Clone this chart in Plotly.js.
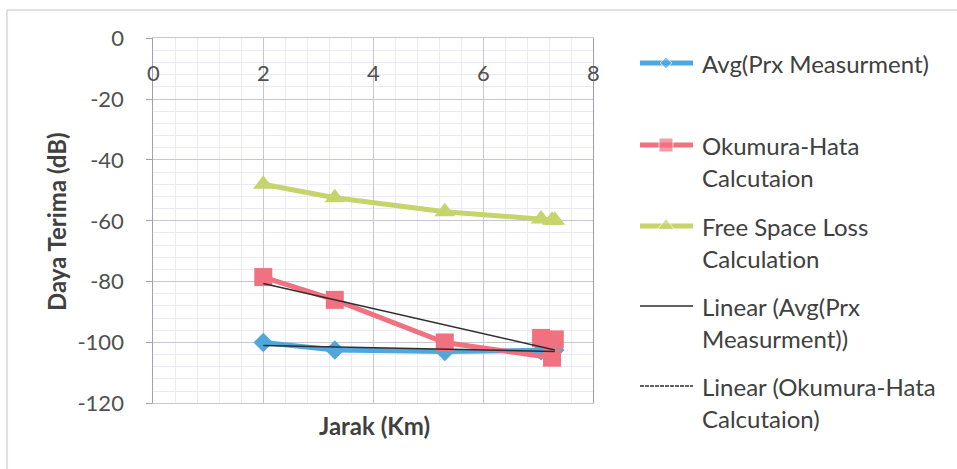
<!DOCTYPE html>
<html>
<head>
<meta charset="utf-8">
<script src="https://cdn.plot.ly/plotly-3.0.1.min.js"></script>
<style>
  html, body { margin: 0; padding: 0; background: #ffffff; }
  #chart { width: 957px; height: 469px; }
  #chart text { font-variant-ligatures: none; font-feature-settings: "liga" 0, "clig" 0; }
</style>
</head>
<body>
<div id="chart"></div>
<script>
// Distance from the transmitter (km) for each measurement row
const distanceKm = [2.0, 3.3, 5.3, 7.25, 7.05, 7.3];

// Received power (dB) per row
const avgPrxMeasurement = [-100, -102.5, -103, -102.8, -102.7, -102.5];
const okumuraHata       = [-78.5, -86, -100, -105, -98.5, -99];
const freeSpaceLoss     = [-48, -52.4, -57, -59.8, -59.4, -59.8];

// Tick positions and their labels (plain hyphen minus)
const xTickVals = [0, 2, 4, 6, 8];
const xTickText = ['0', '2', '4', '6', '8'];
const yTickVals = [0, -20, -40, -60, -80, -100, -120];
const yTickText = ['0', '-20', '-40', '-60', '-80', '-100', '-120'];

// Series and axis labels
const seriesNames = [
  'Avg(Prx Measurment)',
  'Okumura-Hata Calcutaion',
  'Free Space Loss Calculation',
  'Linear (Avg(Prx Measurment))',
  'Linear (Okumura-Hata Calcutaion)'
];
const legendLines = [
  ['Avg(Prx Measurment)'],
  ['Okumura-Hata', 'Calcutaion'],
  ['Free Space Loss', 'Calculation'],
  ['Linear (Avg(Prx', 'Measurment))'],
  ['Linear (Okumura-Hata', 'Calcutaion)']
];
const xTitle = 'Jarak (Km)';
const yTitle = 'Daya Terima (dB)';

// ---- styling ----
const W = 957, H = 469;
const FONT = 'Lato, "Open Sans", sans-serif';
const BLUE = '#4fa7dd', RED = '#f07180', GREEN = '#c5d56b', TREND = '#2e2e2e';
const GRID = '#c6c6d6', MINOR = '#ebebf3', TEXT = '#404040', TICK = '#505050';

// plot area in pixels
const PL = 153.3, PR = 593.3, PT = 38.3, PB = 403.3;

// least-squares linear fit over the data rows
function linearFit(xs, ys) {
  const n = xs.length;
  const mx = xs.reduce((a, b) => a + b, 0) / n;
  const my = ys.reduce((a, b) => a + b, 0) / n;
  let sxy = 0, sxx = 0;
  for (let i = 0; i < n; i++) {
    sxy += (xs[i] - mx) * (ys[i] - my);
    sxx += (xs[i] - mx) * (xs[i] - mx);
  }
  const slope = sxy / sxx;
  const x0 = Math.min(...xs), x1 = Math.max(...xs);
  return { x: [x0, x1], y: [my + slope * (x0 - mx), my + slope * (x1 - mx)] };
}
const fitAvg = linearFit(distanceKm, avgPrxMeasurement);
const fitOH = linearFit(distanceKm, okumuraHata);

const seriesStyle = [
  { color: BLUE,  width: 5, symbol: 'diamond',     size: 15, legSize: 9 },
  { color: RED,   width: 5, symbol: 'square',      size: 18, legSize: 14 },
  { color: GREEN, width: 5, symbol: 'triangle-up', size: 18, legSize: 15 },
  { color: TREND, width: 1.5, dash: 'solid', legDash: 'solid' },
  { color: TREND, width: 1.5, dash: 'solid', legDash: '4px,1px' }
];

const traces = [];
[avgPrxMeasurement, okumuraHata, freeSpaceLoss].forEach((vals, i) => {
  const s = seriesStyle[i];
  traces.push({
    type: 'scatter', mode: 'lines+markers', name: seriesNames[i],
    x: distanceKm, y: vals, xaxis: 'x', yaxis: 'y',
    line: { color: s.color, width: s.width },
    marker: { color: s.color, symbol: s.symbol, size: s.size },
    cliponaxis: false, showlegend: false, hoverinfo: 'x+y'
  });
});
[fitAvg, fitOH].forEach((f, k) => {
  const s = seriesStyle[3 + k];
  traces.push({
    type: 'scatter', mode: 'lines', name: seriesNames[3 + k],
    x: f.x, y: f.y, xaxis: 'x', yaxis: 'y',
    line: { color: s.color, width: s.width, dash: s.dash },
    showlegend: false, hoverinfo: 'skip'
  });
});

// ---- legend (drawn on a pixel-space overlay subplot) ----
const legSymX = [640, 666, 693];
const legTextX = 700;
const legRowY = [63, 145, 226, 306, 386];
const legLineGap = 32;
const annotations = [];
legendLines.forEach((lines, i) => {
  const s = seriesStyle[i];
  const yy = legRowY[i];
  const sym = {
    type: 'scatter', mode: 'lines',
    x: legSymX, y: [yy, yy, yy], xaxis: 'x2', yaxis: 'y2',
    line: { color: s.color, width: s.width, dash: s.legDash || 'solid' },
    showlegend: false, hoverinfo: 'skip', cliponaxis: false
  };
  if (s.symbol) {
    sym.mode = 'lines+markers';
    sym.marker = { color: s.color, symbol: s.symbol, size: [0, s.legSize, 0] };
  }
  traces.push(sym);
  lines.forEach((txt, j) => {
    annotations.push({
      xref: 'x2', yref: 'y2', x: legTextX, y: yy + j * legLineGap,
      xanchor: 'left', yanchor: 'middle', showarrow: false,
      text: txt, font: { family: FONT, size: 24, color: TEXT }
    });
  });
});

// axis titles
annotations.push({
  xref: 'x2', yref: 'y2', x: 374, y: 425, xanchor: 'center', yanchor: 'middle',
  showarrow: false, text: '<b>' + xTitle + '</b>',
  font: { family: FONT, size: 24, color: TEXT }
});
annotations.push({
  xref: 'x2', yref: 'y2', x: 56, y: 222, xanchor: 'center', yanchor: 'middle',
  showarrow: false, textangle: -90, text: '<b>' + yTitle + '</b>',
  font: { family: FONT, size: 24, color: TEXT }
});

const layout = {
  width: W, height: H, autosize: false,
  margin: { l: 0, r: 0, t: 0, b: 0, pad: 0 },
  paper_bgcolor: '#ffffff', plot_bgcolor: 'rgba(0,0,0,0)',
  showlegend: false,
  font: { family: FONT, color: TICK },
  xaxis: {
    domain: [PL / W, PR / W], range: [0, 8],
    tickmode: 'array', tickvals: xTickVals, ticktext: xTickText,
    side: 'top', ticklabelposition: 'inside', ticklabelstandoff: 29,
    ticklabeloverflow: 'allow',
    ticks: '', showline: true, linecolor: GRID, linewidth: 1, mirror: true,
    showgrid: true, gridcolor: GRID, gridwidth: 1, zeroline: false,
    minor: { tickmode: 'linear', tick0: 0, dtick: 0.4, showgrid: true, gridcolor: MINOR, gridwidth: 1 },
    tickfont: { family: FONT, size: 22, color: TICK },
    fixedrange: true, anchor: 'y'
  },
  yaxis: {
    domain: [1 - PB / H, 1 - PT / H], range: [-120, 0],
    tickmode: 'array', tickvals: yTickVals, ticktext: yTickText,
    ticks: 'outside', ticklen: 6, tickcolor: '#a0a0b4', tickwidth: 1,
    ticklabelstandoff: 18, ticklabeloverflow: 'allow',
    showline: true, linecolor: '#a0a0b4', linewidth: 1, mirror: true,
    showgrid: true, gridcolor: GRID, gridwidth: 1, zeroline: false,
    minor: { tickmode: 'linear', tick0: 0, dtick: 4, showgrid: true, gridcolor: MINOR, gridwidth: 1 },
    tickfont: { family: FONT, size: 22, color: TICK },
    fixedrange: true, anchor: 'x'
  },
  xaxis2: { domain: [0, 1], range: [0, W], visible: false, fixedrange: true, anchor: 'y2' },
  yaxis2: { domain: [0, 1], range: [H, 0], visible: false, fixedrange: true, anchor: 'x2' },
  shapes: [
    { type: 'line', xref: 'x2', yref: 'y2', x0: 7, x1: W, y0: 10, y1: 10,
      line: { color: '#d6d6e2', width: 1.5 }, layer: 'below' },
    { type: 'line', xref: 'x2', yref: 'y2', x0: 7, x1: 7, y0: 10, y1: H,
      line: { color: '#d6d6e2', width: 1.5 }, layer: 'below' }
  ],
  annotations: annotations
};

Plotly.newPlot('chart', traces, layout, { staticPlot: true, displayModeBar: false });
</script>
</body>
</html>
